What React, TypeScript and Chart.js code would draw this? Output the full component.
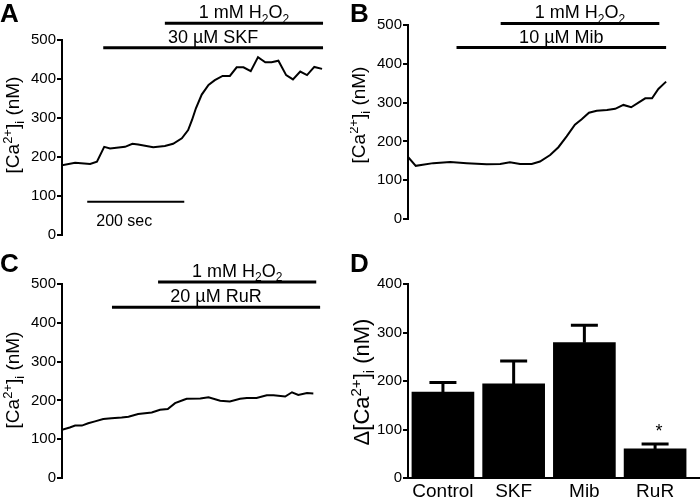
import React, { useEffect, useRef } from "react";
import { Chart, registerables } from "chart.js";

Chart.register(...registerables);

const FONT = '"Liberation Sans", Arial, Helvetica, sans-serif';

type Seg = { t: string; p?: "sup" | "sub" };

// ---- Panel A: SKF ----
const timeA = [0, 27, 58, 72, 87, 99, 130, 145, 157, 188, 212, 229, 247, 260, 268, 276, 288, 302, 315, 331, 346, 360, 374, 389, 404, 419, 432, 446, 462, 476, 491, 505, 520, 536];
const caA = [179, 185, 182, 188, 226, 222, 226, 234, 232, 225, 228, 234, 248, 269, 295, 325, 360, 385, 397, 408, 408, 430, 430, 420, 456, 443, 443, 447, 410, 399, 419, 410, 431, 426];

// ---- Panel B: Mib ----
const timeB = [0, 16, 52, 87, 121, 162, 190, 210, 231, 255, 272, 293, 310, 327, 344, 358, 373, 389, 410, 427, 444, 460, 475, 489, 503, 516, 532];
const caB = [160, 137, 144, 147, 144, 141, 142, 146, 142, 142, 148, 165, 185, 213, 243, 257, 274, 279, 281, 284, 294, 288, 300, 311, 311, 335, 354];

// ---- Panel C: RuR ----
const timeC = [0, 16, 27, 41, 54, 68, 85, 102, 123, 137, 157, 185, 202, 218, 233, 250, 257, 285, 302, 326, 346, 367, 381, 401, 422, 436, 460, 474, 487, 505, 518];
const caC = [124, 130, 135, 135, 141, 146, 152, 154, 156, 158, 165, 169, 176, 178, 193, 201, 204, 205, 208, 199, 197, 204, 206, 206, 213, 213, 210, 221, 214, 219, 218];

// ---- Treatment labels ----
const h2o2Label: Seg[] = [{ t: "1 mM H" }, { t: "2", p: "sub" }, { t: "O" }, { t: "2", p: "sub" }];
const skfLabel: Seg[] = [{ t: "30 µM SKF" }];
const mibLabel: Seg[] = [{ t: "10 µM Mib" }];
const rurLabel: Seg[] = [{ t: "20 µM RuR" }];

// treatment periods (sec) and their drawing level (nM)
const treatmentsA = [
  { label: h2o2Label, start: 212, end: 538, level: 543 },
  { label: skfLabel, start: 85, end: 538, level: 480 },
];
const treatmentsB = [
  { label: h2o2Label, start: 191, end: 518, level: 504 },
  { label: mibLabel, start: 100, end: 532, level: 442 },
];
const treatmentsC = [
  { label: h2o2Label, start: 198, end: 524, level: 505 },
  { label: rurLabel, start: 103, end: 532, level: 440 },
];

const scaleBarA = { start: 52, end: 252, level: 85, label: "200 sec" };

// ---- Panel D ----
const categories = ["Control", "SKF", "Mib", "RuR"];
const meanD = [177, 194, 279, 60];
const semD = [20, 47, 36, 10];
const sigD = ["", "", "", "*"];

const caTitle: Seg[] = [{ t: "[Ca" }, { t: "2+", p: "sup" }, { t: "]" }, { t: "i", p: "sub" }, { t: " (nM)" }];
const dCaTitle: Seg[] = [{ t: "Δ[Ca" }, { t: "2+", p: "sup" }, { t: "]" }, { t: "i", p: "sub" }, { t: " (nM)" }];

function segFont(size: number, p?: string) {
  const s = p ? Math.round(size * 0.68) : size;
  return `${s}px ${FONT}`;
}

function drawRich(ctx: CanvasRenderingContext2D, segs: Seg[], x: number, y: number, size: number, align = "center", angle = 0) {
  ctx.save();
  ctx.translate(x, y);
  if (angle) ctx.rotate(angle);
  let w = 0;
  for (const s of segs) {
    ctx.font = segFont(size, s.p);
    w += ctx.measureText(s.t).width;
  }
  let cx = align === "center" ? -w / 2 : align === "right" ? -w : 0;
  ctx.textAlign = "left";
  ctx.textBaseline = "alphabetic";
  ctx.fillStyle = "#000";
  for (const s of segs) {
    ctx.font = segFont(size, s.p);
    const dy = s.p === "sup" ? -size * 0.38 : s.p === "sub" ? size * 0.24 : 0;
    ctx.fillText(s.t, cx, dy);
    cx += ctx.measureText(s.t).width;
  }
  ctx.restore();
}

function yAxisOpts(max: number) {
  return {
    type: "linear",
    min: 0,
    max,
    ticks: { stepSize: 100, color: "#000", font: { family: FONT, size: 15 }, padding: 1 },
    grid: { display: true, drawOnChartArea: false, drawTicks: true, tickLength: 5, color: "#000", lineWidth: 2 },
    border: { display: true, color: "#000", width: 2 },
    afterFit: (s: any) => {
      s.width = 45;
    },
  };
}

type PanelDecor = {
  letter: string;
  title: Seg[];
  titleX: number;
  titleY: number;
  titleSize: number;
};

function decorPlugin(decor: PanelDecor, treatments: any[], scaleBar?: any) {
  return {
    id: "decor" + decor.letter,
    afterDraw(chart: any) {
      const ctx: CanvasRenderingContext2D = chart.ctx;
      const xs = chart.scales.x;
      const ys = chart.scales.y;
      ctx.save();
      ctx.fillStyle = "#000";
      ctx.font = `bold 26px ${FONT}`;
      ctx.textAlign = "left";
      ctx.textBaseline = "alphabetic";
      ctx.fillText(decor.letter, 0, 22);
      drawRich(ctx, decor.title, decor.titleX, decor.titleY, decor.titleSize, "center", -Math.PI / 2);
      ctx.strokeStyle = "#000";
      ctx.lineCap = "butt";
      for (const tr of treatments) {
        const x1 = xs.getPixelForValue(tr.start);
        const x2 = xs.getPixelForValue(tr.end);
        const y = ys.getPixelForValue(tr.level);
        ctx.lineWidth = 3;
        ctx.beginPath();
        ctx.moveTo(x1, y);
        ctx.lineTo(x2, y);
        ctx.stroke();
        drawRich(ctx, tr.label, (x1 + x2) / 2, y - 5, 18, "center");
      }
      if (scaleBar) {
        const x1 = xs.getPixelForValue(scaleBar.start);
        const x2 = xs.getPixelForValue(scaleBar.end);
        const y = ys.getPixelForValue(scaleBar.level);
        ctx.lineWidth = 2;
        ctx.beginPath();
        ctx.moveTo(x1, y);
        ctx.lineTo(x2, y);
        ctx.stroke();
        drawRich(ctx, [{ t: scaleBar.label }], x1 + 9, y + 24, 16, "left");
      }
      ctx.restore();
    },
  };
}

function traceConfig(times: number[], values: number[], padding: any, decor: PanelDecor, treatments: any[], scaleBar?: any) {
  return {
    type: "line",
    data: {
      datasets: [
        {
          data: times.map((t, i) => ({ x: t, y: values[i] })),
          borderColor: "#000",
          borderWidth: 2,
          pointRadius: 0,
          tension: 0,
          fill: false,
        },
      ],
    },
    options: {
      responsive: false,
      animation: false,
      events: [],
      layout: { padding },
      plugins: { legend: { display: false }, tooltip: { enabled: false } },
      scales: {
        x: { type: "linear", min: 0, max: 540, display: false },
        y: yAxisOpts(500),
      },
    },
    plugins: [decorPlugin(decor, treatments, scaleBar)],
  };
}

function barConfig() {
  const errPlugin = {
    id: "errbars",
    afterDatasetsDraw(chart: any) {
      const ctx: CanvasRenderingContext2D = chart.ctx;
      const xs = chart.scales.x;
      const ys = chart.scales.y;
      ctx.save();
      ctx.strokeStyle = "#000";
      ctx.lineWidth = 3;
      categories.forEach((_, i) => {
        const x = xs.getPixelForValue(i + 1);
        const yb = ys.getPixelForValue(meanD[i]);
        const yt = ys.getPixelForValue(meanD[i] + semD[i]);
        ctx.beginPath();
        ctx.moveTo(x, yb);
        ctx.lineTo(x, yt);
        ctx.moveTo(x - 13.5, yt);
        ctx.lineTo(x + 13.5, yt);
        ctx.stroke();
        if (sigD[i]) {
          ctx.fillStyle = "#000";
          ctx.font = `18px ${FONT}`;
          ctx.textAlign = "center";
          ctx.textBaseline = "alphabetic";
          ctx.fillText(sigD[i], x + 4, yt - 7);
        }
      });
      ctx.restore();
    },
  };
  return {
    type: "bar",
    data: {
      datasets: [
        {
          data: categories.map((_, i) => ({ x: i + 1, y: meanD[i] })),
          backgroundColor: "#000",
          borderWidth: 0,
          barThickness: 62,
        },
      ],
    },
    options: {
      responsive: false,
      animation: false,
      events: [],
      layout: { padding: { left: 13, right: 0, top: 34, bottom: 0 } },
      plugins: { legend: { display: false }, tooltip: { enabled: false } },
      scales: {
        x: {
          type: "linear",
          min: 0.506,
          max: 4.635,
          offset: false,
          grid: { display: false, drawTicks: false, offset: false },
          border: { display: true, color: "#000", width: 2 },
          ticks: {
            color: "#000",
            font: { family: FONT, size: 19 },
            padding: 2,
            autoSkip: false,
            maxRotation: 0,
            callback: (v: any) => categories[Number(v) - 1] ?? "",
          },
          afterBuildTicks: (s: any) => {
            s.ticks = categories.map((_, i) => ({ value: i + 1 }));
          },
          afterFit: (s: any) => {
            s.height = 23;
          },
        },
        y: yAxisOpts(400),
      },
    },
    plugins: [
      errPlugin,
      decorPlugin({ letter: "D", title: dCaTitle, titleX: 19, titleY: 132, titleSize: 22 }, []),
    ],
  };
}

function Panel({ left, top, width, height, make }: { left: number; top: number; width: number; height: number; make: () => any }) {
  const ref = useRef<HTMLCanvasElement | null>(null);
  useEffect(() => {
    if (!ref.current) return;
    const chart = new Chart(ref.current, make());
    return () => chart.destroy();
  }, []);
  return (
    <div style={{ position: "absolute", left, top, width, height }}>
      <canvas ref={ref} width={width} height={height} style={{ display: "block", width, height }} />
    </div>
  );
}

export default function App() {
  return (
    <div style={{ position: "fixed", left: 0, top: 0, width: 700, height: 501, background: "#fff", overflow: "hidden" }}>
      <Panel
        left={0}
        top={0}
        width={350}
        height={250}
        make={() =>
          traceConfig(timeA, caA, { left: 17, right: 26, top: 40, bottom: 15 }, { letter: "A", title: caTitle, titleX: 19, titleY: 125, titleSize: 19 }, treatmentsA, scaleBarA)
        }
      />
      <Panel
        left={350}
        top={0}
        width={350}
        height={250}
        make={() =>
          traceConfig(timeB, caB, { left: 13, right: 30, top: 25, bottom: 31 }, { letter: "B", title: caTitle, titleX: 15, titleY: 115, titleSize: 19 }, treatmentsB)
        }
      />
      <Panel
        left={0}
        top={250}
        width={350}
        height={251}
        make={() =>
          traceConfig(timeC, caC, { left: 17, right: 26, top: 34, bottom: 23 }, { letter: "C", title: caTitle, titleX: 19, titleY: 130, titleSize: 19 }, treatmentsC)
        }
      />
      <Panel left={350} top={250} width={350} height={251} make={barConfig} />
    </div>
  );
}
